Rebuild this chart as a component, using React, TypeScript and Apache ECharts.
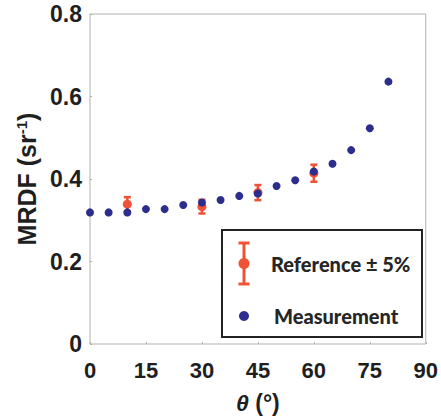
import React, { useEffect, useRef } from "react";
import * as echarts from "echarts";

const angles = [0, 5, 10, 15, 20, 25, 30, 35, 40, 45, 50, 55, 60, 65, 70, 75, 80];
const measurement = [0.319, 0.319, 0.319, 0.327, 0.327, 0.337, 0.343, 0.349, 0.359, 0.365, 0.383, 0.397, 0.418, 0.437, 0.47, 0.523, 0.636];
const refAngles = [10, 30, 45, 60];
const reference = [0.339, 0.333, 0.367, 0.414];
const refErrorPct = 0.05;
const xTicks = [0, 15, 30, 45, 60, 75, 90];
const yTicks = [0, 0.2, 0.4, 0.6, 0.8];

const BLUE = "#2c2e8e";
const ORANGE = "#ef5236";
const TEXT = "#1f1f1f";
const AXIS_FONT = "'Liberation Sans', Arial, sans-serif";
const LEGEND_FONT = "Lato, 'Liberation Sans', sans-serif";

export default function App() {
  const ref = useRef<HTMLDivElement>(null);
  useEffect(() => {
    if (!ref.current) return;
    const chart = echarts.init(ref.current, undefined, { renderer: "svg" });
    const refData = refAngles.map((a, i) => [a, reference[i]]);
    const errData = refAngles.map((a, i) => [a, reference[i] * (1 - refErrorPct), reference[i] * (1 + refErrorPct)]);
    chart.setOption({
      animation: false,
      backgroundColor: "#ffffff",
      grid: {
        left: 90, top: 14, right: 13, bottom: 75,
        show: true, borderColor: "#b0b0b0", borderWidth: 1,
      },
      xAxis: {
        type: "value",
        min: xTicks[0],
        max: xTicks[xTicks.length - 1],
        interval: 15,
        axisLine: { show: false },
        axisTick: { show: true, inside: true, length: 2, lineStyle: { color: "#b0b0b0" } },
        splitLine: { show: false },
        axisLabel: {
          margin: 15,
          fontFamily: AXIS_FONT, fontWeight: "bold", fontSize: 22, color: TEXT,
        },
        name: "{th|θ} (°)",
        nameLocation: "middle",
        nameGap: 47,
        nameTextStyle: {
          fontFamily: AXIS_FONT, fontWeight: "bold", fontSize: 23, color: TEXT,
          rich: {
            th: { fontFamily: AXIS_FONT, fontWeight: "bold", fontStyle: "italic", fontSize: 23, color: TEXT },
          },
        },
      },
      yAxis: {
        type: "value",
        min: yTicks[0],
        max: yTicks[yTicks.length - 1],
        interval: 0.2,
        axisLine: { show: false },
        axisTick: { show: true, inside: true, length: 2, lineStyle: { color: "#b0b0b0" } },
        splitLine: { show: false },
        axisLabel: {
          margin: 8,
          fontFamily: AXIS_FONT, fontWeight: "bold", fontSize: 23, color: TEXT,
          formatter: (v: number) => (v === 0 ? "0" : v.toFixed(1)),
        },
        name: "MRDF (sr{sup|-1})",
        nameLocation: "middle",
        nameRotate: 90,
        nameGap: 44,
        nameTextStyle: {
          fontFamily: AXIS_FONT, fontWeight: "bold", fontSize: 25, color: TEXT,
          rich: {
            sup: { fontFamily: AXIS_FONT, fontWeight: "bold", fontSize: 15, color: TEXT, verticalAlign: "top" },
          },
        },
      },
      series: [
        {
          type: "custom",
          name: "err",
          data: errData,
          z: 2,
          renderItem: (params: any, api: any) => {
            const x = api.value(0);
            const lo = api.coord([x, api.value(1)]);
            const hi = api.coord([x, api.value(2)]);
            const hw = 3.5;
            const style = { stroke: ORANGE, lineWidth: 2.5 };
            return {
              type: "group",
              children: [
                { type: "line", shape: { x1: lo[0], y1: lo[1], x2: hi[0], y2: hi[1] }, style },
                { type: "line", shape: { x1: lo[0] - hw, y1: lo[1], x2: lo[0] + hw, y2: lo[1] }, style },
                { type: "line", shape: { x1: hi[0] - hw, y1: hi[1], x2: hi[0] + hw, y2: hi[1] }, style },
              ],
            };
          },
        },
        {
          type: "scatter",
          name: "Reference ± 5%",
          data: refData,
          symbol: "circle",
          symbolSize: 9,
          itemStyle: { color: ORANGE, opacity: 1 },
          z: 3,
        },
        {
          type: "scatter",
          name: "Measurement",
          data: angles.map((a, i) => [a, measurement[i]]),
          symbol: "circle",
          symbolSize: 8,
          itemStyle: { color: BLUE, opacity: 1 },
          z: 4,
        },
      ],
      graphic: [
        {
          type: "group",
          left: 221,
          top: 229,
          children: [
            { type: "rect", shape: { x: 0, y: 0, width: 200, height: 107 }, style: { fill: "#fff", stroke: "#222", lineWidth: 2 } },
            { type: "line", shape: { x1: 22, y1: 13, x2: 22, y2: 54 }, style: { stroke: ORANGE, lineWidth: 3 } },
            { type: "line", shape: { x1: 16.5, y1: 13, x2: 27.5, y2: 13 }, style: { stroke: ORANGE, lineWidth: 3 } },
            { type: "line", shape: { x1: 16.5, y1: 54, x2: 27.5, y2: 54 }, style: { stroke: ORANGE, lineWidth: 3 } },
            { type: "circle", shape: { cx: 22, cy: 33.5, r: 5.5 }, style: { fill: ORANGE } },
            {
              type: "text", x: 49, y: 33.5,
              style: { text: "Reference ± 5%", fill: "#262626", font: `900 20px ${LEGEND_FONT}`, textVerticalAlign: "middle" },
            },
            { type: "circle", shape: { cx: 22, cy: 86, r: 5 }, style: { fill: BLUE } },
            {
              type: "text", x: 52, y: 86,
              style: { text: "Measurement", fill: "#262626", font: `900 20px ${LEGEND_FONT}`, textVerticalAlign: "middle" },
            },
          ],
        },
      ],
    });
    return () => chart.dispose();
  }, []);
  return <div ref={ref} style={{ width: 441, height: 419, position: "absolute", left: 0, top: 0 }} />;
}
